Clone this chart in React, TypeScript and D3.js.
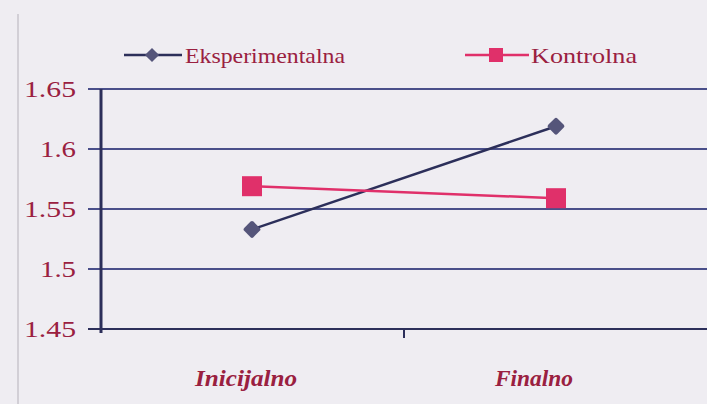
import React from "react";
import * as d3 from "d3";

const categories = ["Inicijalno", "Finalno"];
const seriesNames = ["Eksperimentalna", "Kontrolna"];
const eksperimentalna = [1.533, 1.619];
const kontrolna = [1.569, 1.559];
const yTicks = [1.45, 1.5, 1.55, 1.6, 1.65];

const W = 707;
const H = 404;
const textStyle = { fontFamily: "'Liberation Serif'" };

export default function App() {
  const x = d3.scaleBand<string>().domain(categories).range([100, 708]);
  const y = d3.scaleLinear().domain([1.45, 1.65]).range([329, 89]);
  const cx = (c: string) => (x(c) ?? 0) + x.bandwidth() / 2;
  const line = d3
    .line<number>()
    .x((_, i) => cx(categories[i]))
    .y((v) => y(v));

  const navy = "#2c2f5a";
  const blue = "#4a4f8a";
  const red = "#e0306a";
  const labelColor = "#9a2040";
  const labelShift = [-6, -22];
  const labelWidth = [102, 78];

  return (
    <svg width={W} height={H} style={{ position: "absolute", left: 0, top: 0, display: "block" }}>
      <rect x={0} y={0} width={W} height={H} fill="#efedf2" />
      <line x1={18} x2={18} y1={14} y2={404} stroke="#c8c4cc" strokeWidth={1.5} />

      {/* gridlines */}
      {yTicks.map((t) => (
        <line
          key={t}
          x1={88}
          x2={W}
          y1={y(t)}
          y2={y(t)}
          stroke={t === 1.45 ? navy : blue}
          strokeWidth={2}
        />
      ))}
      {/* y tick labels */}
      {yTicks.map((t) => {
        const s = String(t);
        return (
          <text
            key={"l" + t}
            x={76}
            y={y(t)}
            dy="0.35em"
            textAnchor="end"
            fontSize={24}
            fill={labelColor}
            style={textStyle}
            textLength={s.length === 4 ? 52 : 36}
            lengthAdjust="spacingAndGlyphs"
          >
            {s}
          </text>
        );
      })}
      {/* axes */}
      <line x1={101} x2={101} y1={89} y2={333} stroke={navy} strokeWidth={3} />
      <line x1={404} x2={404} y1={329} y2={338} stroke={navy} strokeWidth={2} />

      {/* category labels */}
      {categories.map((c, i) => (
        <text
          key={c}
          x={cx(c) + labelShift[i]}
          y={386}
          textAnchor="middle"
          fontSize={24}
          fontStyle="italic"
          fontWeight="bold"
          fill={labelColor}
          style={textStyle}
          textLength={labelWidth[i]}
          lengthAdjust="spacingAndGlyphs"
        >
          {c}
        </text>
      ))}

      {/* series */}
      <path d={line(eksperimentalna) ?? ""} fill="none" stroke={navy} strokeWidth={2.5} />
      <path d={line(kontrolna) ?? ""} fill="none" stroke={red} strokeWidth={2.5} />
      {eksperimentalna.map((v, i) => (
        <rect
          key={"e" + i}
          x={-6.5}
          y={-6.5}
          width={13}
          height={13}
          fill="#55557a"
          transform={`translate(${cx(categories[i])},${y(v)}) rotate(45)`}
          rx={2}
        />
      ))}
      {kontrolna.map((v, i) => (
        <rect
          key={"k" + i}
          x={cx(categories[i]) - 10}
          y={y(v) - 10}
          width={20}
          height={20}
          fill={red}
        />
      ))}

      {/* legend */}
      <g>
        <line x1={124} x2={182} y1={55} y2={55} stroke={navy} strokeWidth={2.5} />
        <rect x={-5} y={-5} width={10} height={10} fill="#55557a" transform="translate(152,55) rotate(45)" />
        <text x={185} y={55} dy="0.35em" fontSize={22} fill={labelColor} style={textStyle} textLength={160} lengthAdjust="spacingAndGlyphs">
          {seriesNames[0]}
        </text>
        <line x1={465} x2={529} y1={55} y2={55} stroke={red} strokeWidth={2.5} />
        <rect x={489} y={48} width={14} height={14} fill={red} />
        <text x={531} y={55} dy="0.35em" fontSize={22} fill={labelColor} style={textStyle} textLength={106} lengthAdjust="spacingAndGlyphs">
          {seriesNames[1]}
        </text>
      </g>
    </svg>
  );
}
